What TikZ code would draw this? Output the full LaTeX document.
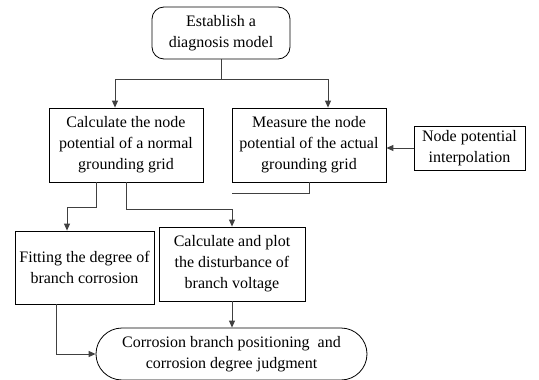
\documentclass[tikz,border=0pt]{standalone}
\usepackage{fontspec}
\setmainfont{Liberation Serif}
\usetikzlibrary{arrows.meta}
\begin{document}
\begin{tikzpicture}[>={Triangle[length=7pt,width=6pt]},x=1pt,y=-1pt,
	box/.style={draw,line width=0.8pt,align=center,inner sep=0pt,font=\fontsize{16}{21}\selectfont},
	rbox/.style={box,rounded corners=12pt},
	line/.style={line width=0.9pt,draw=black!75}]
	\useasboundingbox (0,0) rectangle (539,380);
	% boxes
	\node[rbox,minimum width=138pt,minimum height=52pt] (model) at (221,33) {Establish a\\diagnosis model};
	\node[box,minimum width=154pt,minimum height=74pt] (normal) at (126,145) {Calculate the node\\potential of a normal\\grounding grid};
	\node[box,minimum width=154pt,minimum height=74pt] (meas) at (309,145) {Measure the node\\potential of the actual\\grounding grid};
	\node[box,minimum width=111pt,minimum height=44pt] (interp) at (469.5,148) {Node potential\\interpolation};
	\node[box,minimum width=139pt,minimum height=73pt] (fit) at (84.5,267.5) {Fitting the degree of\\branch corrosion};
	\node[box,minimum width=146pt,minimum height=74pt] (plot) at (232,264) {Calculate and plot\\the disturbance of\\branch voltage};
	\node[box,rounded corners=26pt,minimum width=271pt,minimum height=52pt] (final) at (231.5,354) {Corrosion branch positioning\ \ and\\corrosion degree judgment};
	% connectors
	\coordinate (split) at (221,79);
	\draw[line] (model.south) -- (split);
	\draw[line,->] (split) -| ([xshift=-11pt]normal.north);
	\draw[line,->] (split) -| ([xshift=19pt]meas.north);
	\draw[line,->] (interp.west) -- (interp.west -| meas.east);
	\draw[line] (meas.south) -- ++(0,11) -- ++(-77,0);
	\draw[line,->] ([xshift=-30pt]normal.south) -- ++(0,25) -| ([xshift=-17.5pt]fit.north);
	\draw[line,->] (normal.south) -- ++(0,27) -| (plot.north);
	\draw[line,->] (plot.south) -- (plot.south |- final.north);
	\draw[line,->] ([xshift=-28.5pt]fit.south) |- (final.west);
\end{tikzpicture}
\end{document}
